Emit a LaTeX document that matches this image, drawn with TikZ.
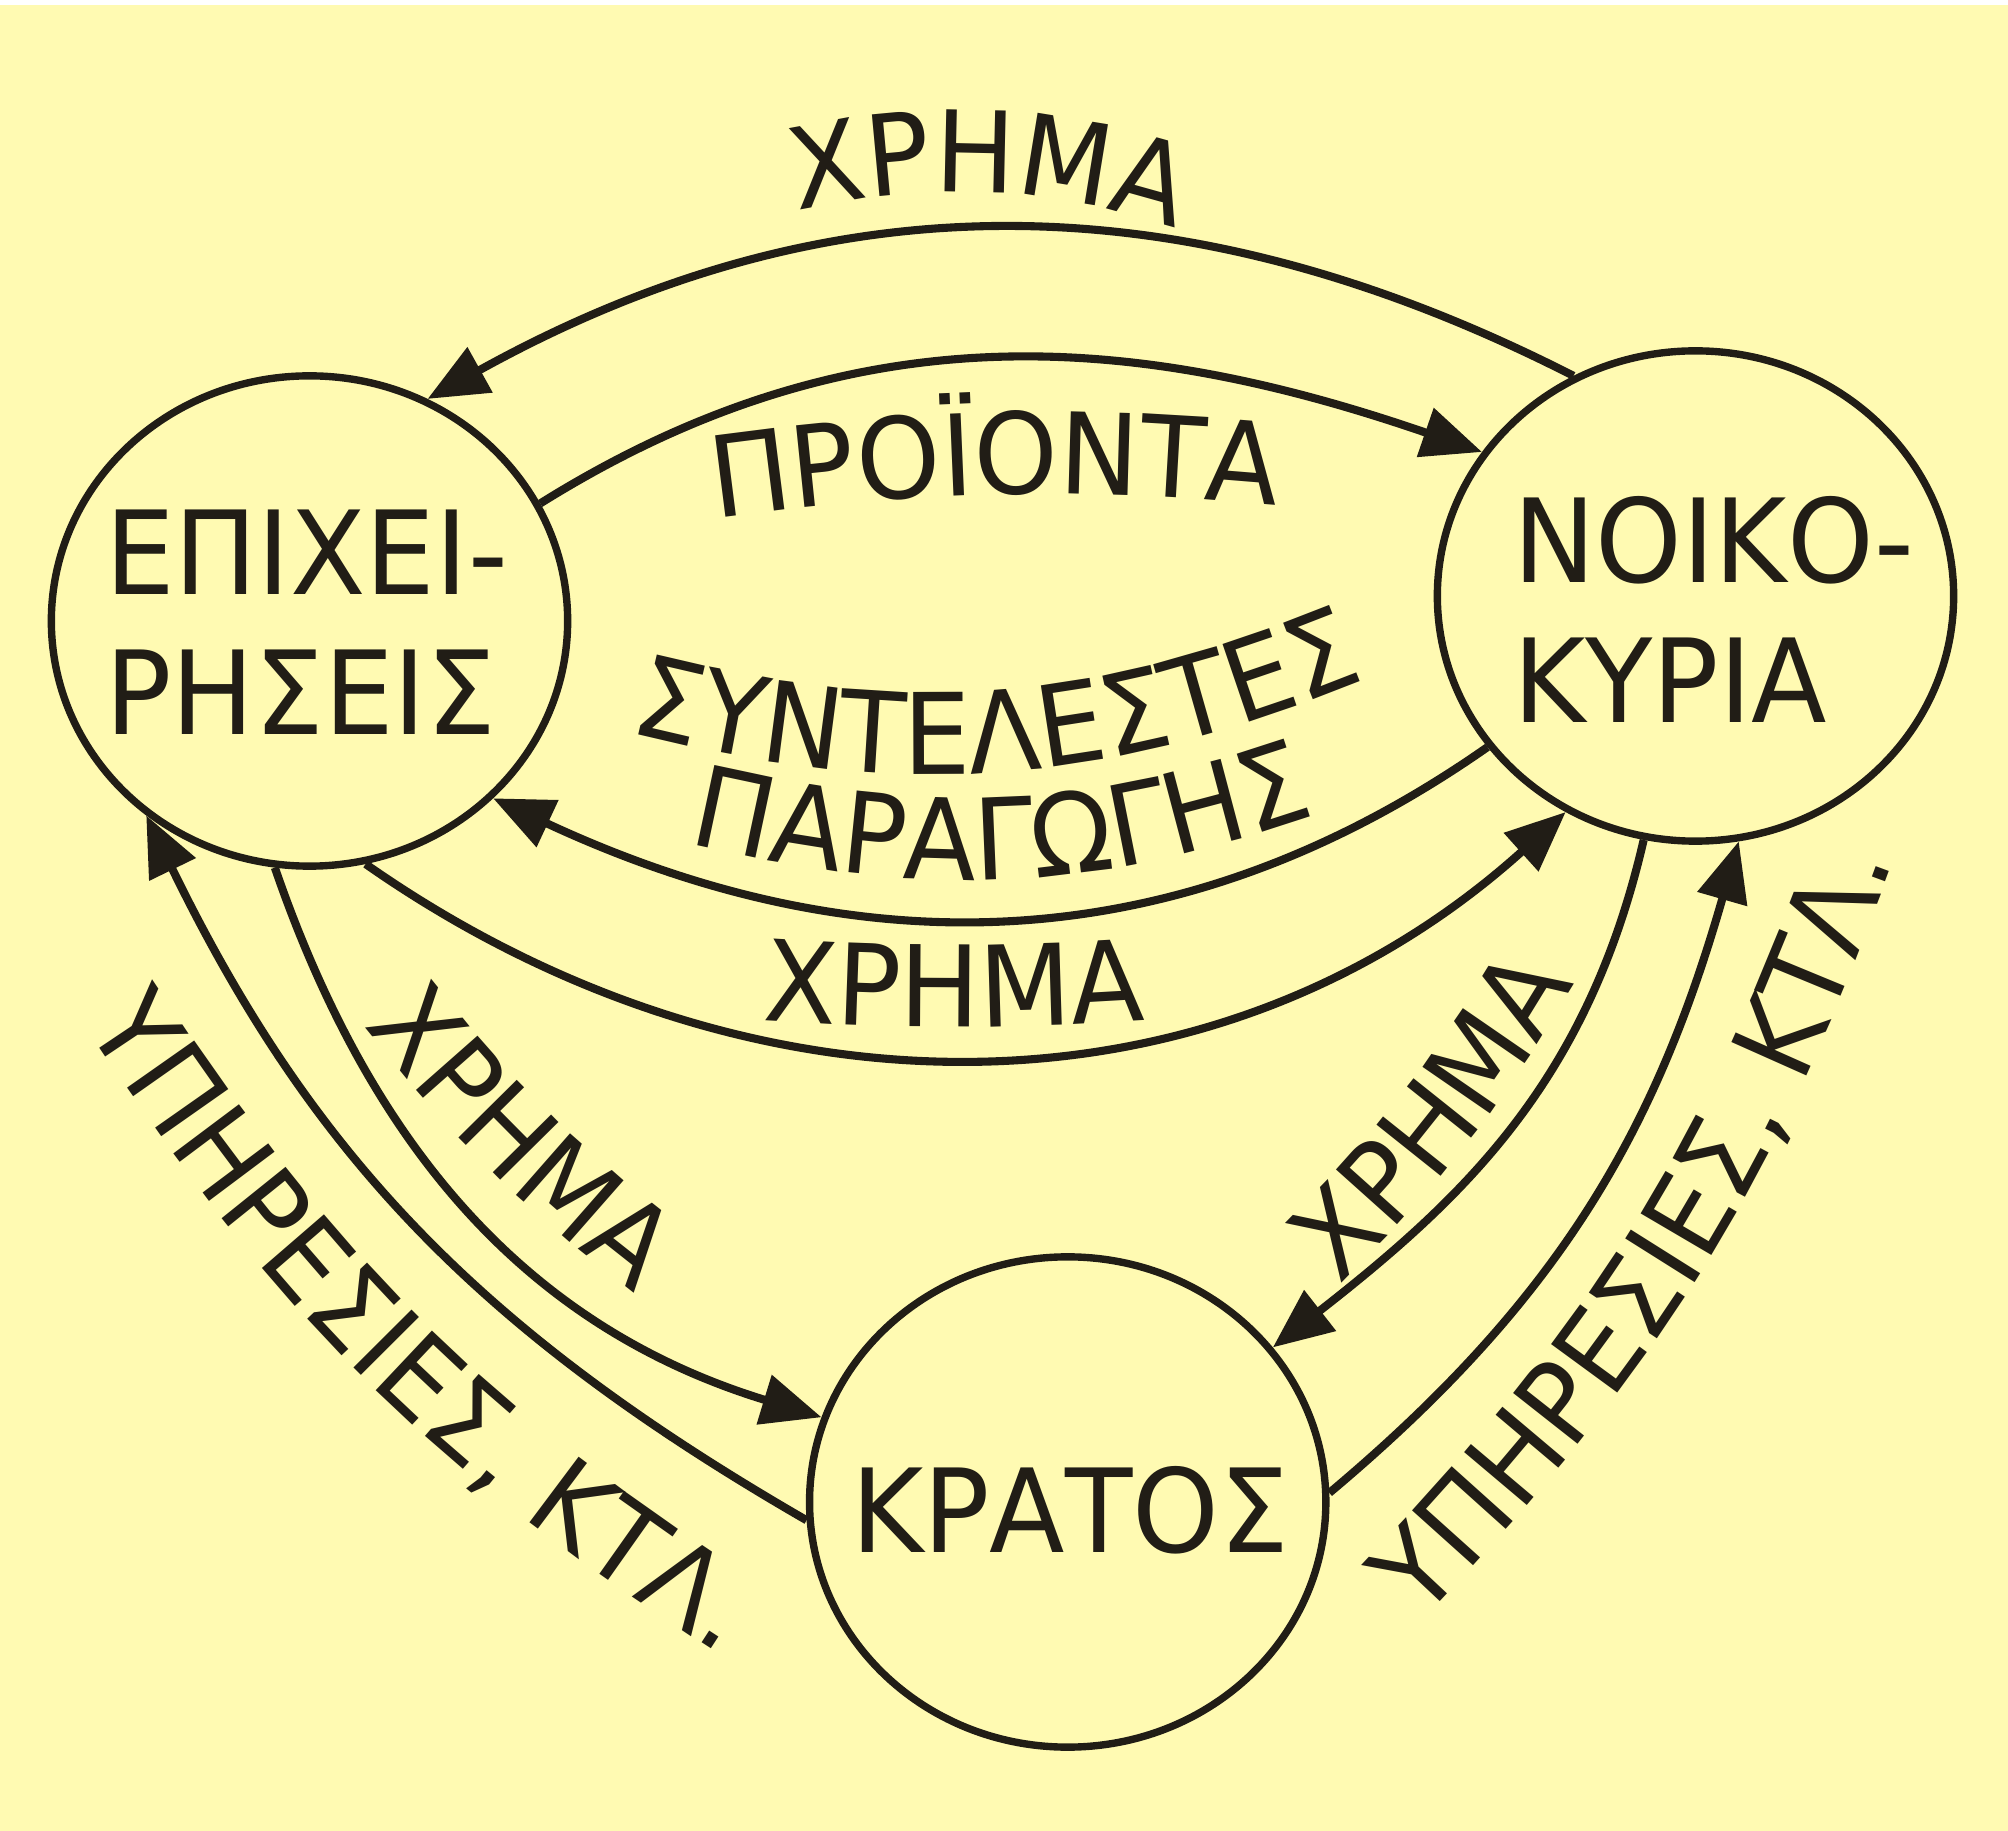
\documentclass[tikz,border=0pt]{standalone}
\usepackage{fontspec}
\setmainfont{DejaVu Sans}[FakeStretch=0.95]
\usepackage{xcolor}
\usetikzlibrary{arrows.meta,shapes.geometric,decorations.text}
\definecolor{paper}{RGB}{255,250,178}
\definecolor{ink}{RGB}{33,29,22}
\newcommand{\namefont}{\fontsize{33}{39.8}\selectfont}
\newcommand{\lblfont}{\fontsize{32}{38}\selectfont}

\begin{document}
\begin{tikzpicture}[
  x=0.01cm,y=0.01cm,
  agent/.style={ellipse,draw=ink,line width=2.1pt,minimum width=5.16cm,minimum height=4.9cm,inner sep=0pt},
  title/.style={text=ink,font=\namefont,align=left,inner sep=0pt},
  arr/.style={-{Triangle[length=6mm,width=5mm]},line width=2.3pt,draw=ink},
  lbl/.style={decorate,decoration={text along path,text align=center,text color=ink,text={|\lblfont|#1}}}
]
\useasboundingbox (0,0) rectangle (2008,-1831);
\fill[white] (0,0) rectangle (2008,-5);
\fill[paper] (0,-5) rectangle (2008,-1831);

\node[agent] (firms) at (309.5,-621) {};
\node[agent] (homes) at (1695.5,-596) {};
\node[agent] (state) at (1067.7,-1502) {};
\node[title] (firmsname) at (306.5,-622.5) {ΕΠΙΧΕΙ-\\ΡΗΣΕΙΣ};
\node[title] (homesname) at (1713.5,-609.5) {ΝΟΙΚΟ-\\ΚΥΡΙΑ};
\node[title] (statename) at (1070,-1510) {ΚΡΑΤΟΣ};

\draw[arr] (homes.119) to[out=153,in=29] (firms.62);
\draw[arr] (firms.27) to[out=32,in=161] (homes.146);
\draw[arr] (homes.216) to[out=215,in=335] (firms.316);
\draw[arr] (firms.283) to[out=-35,in=222] (homes.239);
\draw[arr] (firms.262) to[out=-71,in=163] (state.161);
\draw[arr] (state.184) to[out=150,in=296] (firms.230);
\draw[arr] (homes.258) to[out=257,in=38] (state.37);
\draw[arr] (state.2) to[out=40,in=254] (homes.280);

\path[lbl=ΧΡΗΜΑ] (741,-226) to[bend left=18] (1231,-248);
\path[lbl=ΠΡΟΪΟΝΤΑ] (671,-525) to[bend left=7] (1321,-510);
\path[lbl=ΣΥΝΤΕΛΕΣΤΕΣ] (601,-725) to[out=-15,in=203] (1392,-668);
\path[lbl=ΠΑΡΑΓΩΓΗΣ] (659,-836) to[out=-14,in=200] (1344,-805);
\path[lbl=ΧΡΗΜΑ] (734,-1018) to[bend right=4] (1174,-1018);
\path[lbl=ΧΡΗΜΑ] (340,-995) to[bend right=8] (666,-1317);
\path[lbl={ΥΠΗΡΕΣΙΕΣ, ΚΤΛ.}] (82,-1021) to[bend right=12] (725,-1658);
\path[lbl=ΧΡΗΜΑ] (1312,-1312) to[bend right=8] (1594,-950);
\path[lbl={ΥΠΗΡΕΣΙΕΣ, ΚΤΛ.}] (1414,-1629) to[bend right=12] (1897,-851);
\end{tikzpicture}
\end{document}
